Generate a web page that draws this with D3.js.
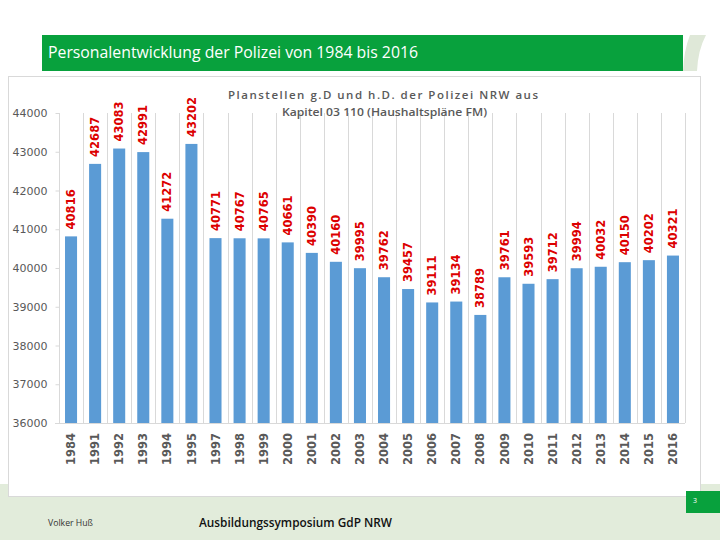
<!DOCTYPE html>
<html>
<head>
<meta charset="utf-8">
<script src="https://cdn.jsdelivr.net/npm/d3@7"></script>
<style>
  html, body { margin: 0; padding: 0; background: #ffffff; }
  svg { display: block; }
</style>
</head>
<body>
<svg id="chart" width="720" height="540"></svg>
<script>
// ---- data ----
const years = ["1984","1991","1992","1993","1994","1995","1997","1998","1999","2000","2001","2002","2003","2004","2005","2006","2007","2008","2009","2010","2011","2012","2013","2014","2015","2016"];
const values = [40816,42687,43083,42991,41272,43202,40771,40767,40765,40661,40390,40160,39995,39762,39457,39111,39134,38789,39761,39593,39712,39994,40032,40150,40202,40321];
const yTicks = [36000,37000,38000,39000,40000,41000,42000,43000,44000];
const titleText = "Personalentwicklung der Polizei von 1984 bis 2016";
const subtitle1 = "Planstellen g.D und h.D. der Polizei NRW aus";
const subtitle2 = "Kapitel 03 110 (Haushaltspläne FM)";
const footerLeft = "Volker Huß";
const footerCenter = "Ausbildungssymposium GdP NRW";
const pageNo = "3";

const svg = d3.select("#chart");

// ---- slide background ----
svg.append("rect").attr("x", 0).attr("y", 484).attr("width", 720).attr("height", 56).attr("fill", "#e2ecdb");
svg.append("rect").attr("x", 42).attr("y", 35).attr("width", 641).attr("height", 36).attr("fill", "#08a13d");
svg.append("path").attr("d", "M690,35 L706,35 Q698,50 697,71 L683,71 Q684,50 690,35 Z").attr("fill", "#dfe8d8");
svg.append("text").attr("x", 48).attr("y", 58)
  .attr("font-family", "'Open Sans', sans-serif").attr("font-size", 16.5).attr("fill", "#ffffff")
  .attr("textLength", 370).attr("lengthAdjust", "spacingAndGlyphs").text(titleText);

// chart panel
svg.append("rect").attr("x", 8.5).attr("y", 76.5).attr("width", 692).attr("height", 420)
  .attr("fill", "#ffffff").attr("stroke", "#d9d9d9").attr("stroke-width", 1);

// footer
svg.append("text").attr("x", 48).attr("y", 526)
  .attr("font-family", "'Open Sans', sans-serif").attr("font-size", 9).attr("fill", "#333333")
  .attr("textLength", 45).attr("lengthAdjust", "spacingAndGlyphs").text(footerLeft);
svg.append("text").attr("x", 199).attr("y", 527)
  .attr("font-family", "'Open Sans', sans-serif").attr("font-size", 13).attr("font-weight", 600).attr("fill", "#111111")
  .attr("textLength", 193).attr("lengthAdjust", "spacingAndGlyphs").text(footerCenter);
svg.append("rect").attr("x", 686).attr("y", 491).attr("width", 34).attr("height", 22).attr("fill", "#08a13d");
svg.append("text").attr("x", 693).attr("y", 503)
  .attr("font-family", "'Open Sans', sans-serif").attr("font-size", 7).attr("fill", "#ffffff").text(pageNo);

// ---- scales ----
const x = d3.scaleBand().domain(years).range([59, 685]).paddingInner(0.5).paddingOuter(0.25);
const y = d3.scaleLinear().domain([36000, 44000]).range([423, 113]);
const step = x.step();

// vertical gridlines (category separators)
const g = svg.append("g");
g.selectAll("line.vgrid").data(d3.range(years.length + 1)).enter().append("line")
  .attr("class", "vgrid")
  .attr("x1", i => Math.round(x.range()[0] + i * step) + 0.5)
  .attr("x2", i => Math.round(x.range()[0] + i * step) + 0.5)
  .attr("y1", y(44000)).attr("y2", y(36000))
  .attr("stroke", "#d9d9d9").attr("stroke-width", 1);

// y axis
const yAxis = d3.axisLeft(y).tickValues(yTicks).tickSize(4).tickPadding(8).tickFormat(d3.format("d"));
const ya = svg.append("g").attr("transform", "translate(59.5,0)").call(yAxis);
ya.select(".domain").remove();
ya.selectAll("line").attr("stroke", "#d9d9d9");
ya.selectAll("text").attr("font-family", "'DejaVu Sans', Verdana, sans-serif").attr("font-size", 11).attr("fill", "#595959");

// x axis baseline
svg.append("line").attr("x1", 55).attr("x2", 685).attr("y1", y(36000) + 0.5).attr("y2", y(36000) + 0.5)
  .attr("stroke", "#d9d9d9").attr("stroke-width", 1);

// bars
svg.append("g").selectAll("rect").data(years).enter().append("rect")
  .attr("x", d => x(d))
  .attr("width", x.bandwidth())
  .attr("y", (d, i) => y(values[i]))
  .attr("height", (d, i) => y(36000) - y(values[i]))
  .attr("fill", "#5b9bd5");

// x labels (rotated)
svg.append("g").selectAll("text").data(years).enter().append("text")
  .attr("transform", d => `translate(${x(d) + x.bandwidth() / 2},${y(36000) + 10}) rotate(-90)`)
  .attr("text-anchor", "end").attr("dy", "0.36em")
  .attr("font-family", "'DejaVu Sans', Verdana, sans-serif").attr("font-size", 11.5).attr("font-weight", "bold")
  .attr("fill", "#595959").text(d => d);

// value labels (rotated, red)
svg.append("g").selectAll("text").data(years).enter().append("text")
  .attr("transform", (d, i) => `translate(${x(d) + x.bandwidth() / 2},${y(values[i]) - 7}) rotate(-90)`)
  .attr("text-anchor", "start").attr("dy", "0.36em")
  .attr("font-family", "'DejaVu Sans', Verdana, sans-serif").attr("font-size", 11.5).attr("font-weight", "bold")
  .attr("fill", "#dc0000").text((d, i) => values[i]);

// subtitle
svg.append("text").attr("x", 383).attr("y", 99).attr("text-anchor", "middle")
  .attr("font-family", "'Open Sans', sans-serif").attr("font-size", 11.5).attr("font-weight", 600).attr("fill", "#595959")
  .attr("textLength", 310).attr("lengthAdjust", "spacing").text(subtitle1);
svg.append("text").attr("x", 384.5).attr("y", 116).attr("text-anchor", "middle")
  .attr("font-family", "'Open Sans', sans-serif").attr("font-size", 11.5).attr("font-weight", 600).attr("fill", "#595959")
  .attr("textLength", 205).attr("lengthAdjust", "spacingAndGlyphs").text(subtitle2);
</script>
</body>
</html>
